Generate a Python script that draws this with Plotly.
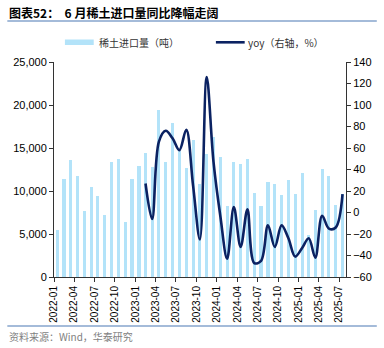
import plotly.graph_objects as go

# Monthly rare-earth import volume (tonnes), 2022-01 .. 2025-07
months = [f"{y}-{m:02d}-01" for y in range(2022, 2026) for m in range(1, 13)][:43]
import_volume = [
    5500, 11350, 13550, 11750, 7650, 10500, 9400, 7200, 13350, 13750, 6350, 11350,
    12950, 14400, 12800, 19450, 13350, 17850, 14700, 12650, 15900, 10800, 14300, 16300,
    14000, 8300, 13400, 13100, 13700, 9750, 8300, 11100, 10800, 9500, 11300, 9650,
    12100, 4900, 7750, 12600, 11700, 8400, 9700,
]

# Year-on-year change (%), right axis, 2023-02 .. 2025-07
yoy_months = months[13:]
yoy = [
    27, -6, 66, 76, 69, 58, 77, 25, -25, 126, 47,
    -4, -43, 5, -32, 3, -47, -45, -12, -32, -12, -24, -41,
    -33, -24, -42, -3, -15, -14, 17,
]

tick_months = months[::3]
tick_text = [m[:7] for m in tick_months]

title_text = "图表52：  6 月稀土进口量同比降幅走阔"
bar_name = "稀土进口量（吨）"
line_name = "yoy（右轴，%）"
source_text = "资料来源：Wind，华泰研究"

BAR_COLOR = "#B3E3F9"
LINE_COLOR = "#0B2262"
RULE_COLOR = "#4A78B4"
FONT = "Liberation Sans, Arial, Noto Sans CJK SC, sans-serif"
CJK = "Noto Sans CJK SC, Liberation Sans, sans-serif"

W, H = 384, 348
ML, MR, MT, MB = 54, 36, 62, 71
PW, PH = W - ML - MR, H - MT - MB


def px(x):
    return (x - ML) / PW


def py(y):
    return (H - MB - y) / PH


fig = go.Figure()

fig.add_trace(go.Bar(
    x=months, y=import_volume, name=bar_name,
    xperiod="M1", xperiodalignment="middle",
    width=14 * 86400000,
    marker=dict(color=BAR_COLOR, line=dict(width=0)),
    showlegend=False,
))

fig.add_trace(go.Scatter(
    x=yoy_months, y=yoy, name=line_name, yaxis="y2",
    xperiod="M1", xperiodalignment="middle",
    mode="lines", line=dict(color=LINE_COLOR, width=2.6, shape="spline", smoothing=1),
    showlegend=False,
))

axis_common = dict(
    showline=True, linecolor="#333333", linewidth=1,
    ticks="outside", ticklen=4, tickcolor="#333333",
    showgrid=False, zeroline=False,
    tickfont=dict(family=FONT, size=11, color="#000000"),
)

fig.update_layout(
    width=W, height=H,
    margin=dict(l=ML, r=MR, t=MT, b=MB, pad=0),
    paper_bgcolor="white", plot_bgcolor="white",
    bargap=0,
    xaxis=dict(
        type="date",
        range=["2022-01-01", "2025-08-01"],
        tickvals=tick_months, ticktext=tick_text,
        tickangle=-90,
        **{**axis_common, "tickfont": dict(family=FONT, size=10, color="#000000")},
    ),
    yaxis=dict(range=[0, 25000], dtick=5000, tickformat=",", **axis_common),
    yaxis2=dict(range=[-60, 140], dtick=20, overlaying="y", side="right", **axis_common),
)

shapes = [
    # rule under the title and above the source line
    dict(type="line", xref="paper", yref="paper", x0=px(7), x1=px(379), y0=py(21), y1=py(21),
         line=dict(color=RULE_COLOR, width=1.2)),
    dict(type="line", xref="paper", yref="paper", x0=px(7), x1=px(379), y0=py(326), y1=py(326),
         line=dict(color=RULE_COLOR, width=1.2)),
    # legend keys
    dict(type="rect", xref="paper", yref="paper", x0=px(65), x1=px(94), y0=py(45), y1=py(39.5),
         fillcolor=BAR_COLOR, line=dict(width=0)),
    dict(type="line", xref="paper", yref="paper", x0=px(217), x1=px(246), y0=py(42.3), y1=py(42.3),
         line=dict(color=LINE_COLOR, width=2.6)),
]

annotations = [
    dict(text=f"<b>{title_text}</b>", xref="paper", yref="paper", x=px(7), y=py(12),
         xanchor="left", yanchor="middle", showarrow=False,
         font=dict(family=CJK, size=12, color="#000000")),
    dict(text=bar_name, xref="paper", yref="paper", x=px(97), y=py(42.3),
         xanchor="left", yanchor="middle", showarrow=False,
         font=dict(family=CJK, size=10, color="#333333")),
    dict(text=line_name, xref="paper", yref="paper", x=px(247), y=py(42.3),
         xanchor="left", yanchor="middle", showarrow=False,
         font=dict(family=CJK, size=10, color="#333333")),
    dict(text=source_text, xref="paper", yref="paper", x=px(7), y=py(336),
         xanchor="left", yanchor="middle", showarrow=False,
         font=dict(family=CJK, size=10, color="#7F7F7F")),
]

fig.update_layout(shapes=shapes, annotations=annotations)

fig.write_html("out.html")
